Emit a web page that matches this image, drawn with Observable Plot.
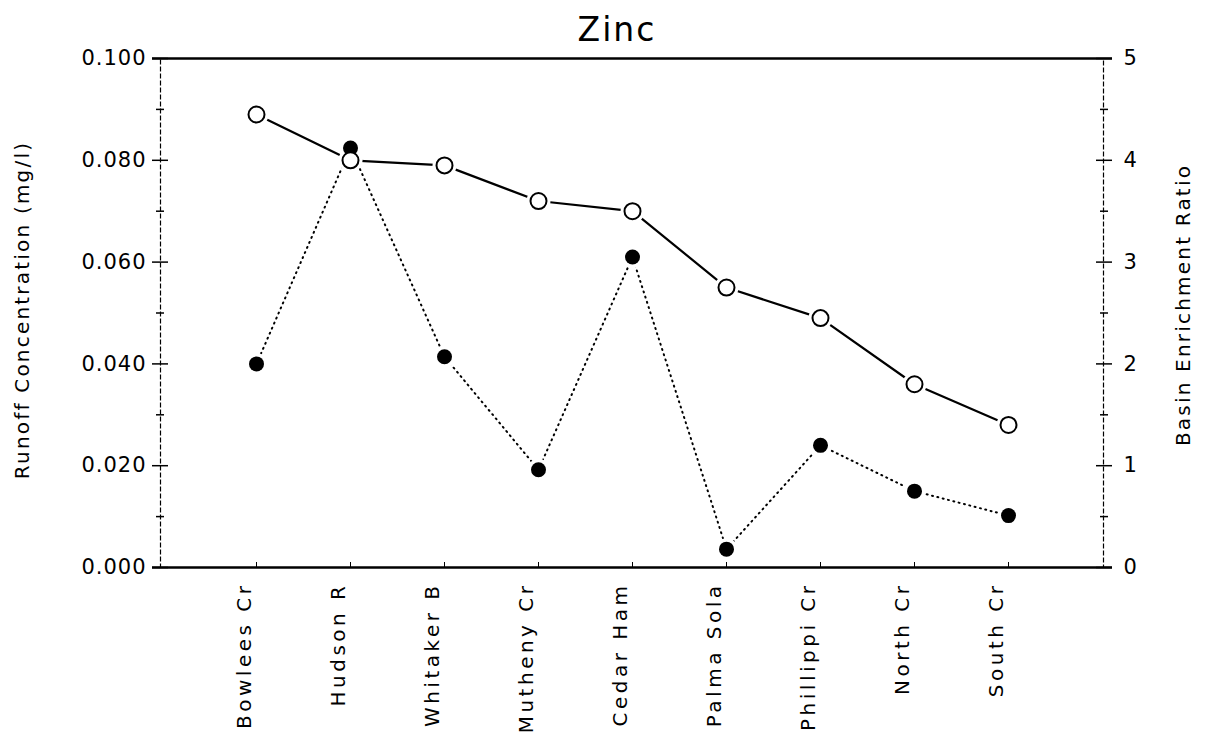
<!DOCTYPE html>
<html>
<head>
<meta charset="utf-8">
<script src="https://cdn.jsdelivr.net/npm/d3@7"></script>
<script src="https://cdn.jsdelivr.net/npm/@observablehq/plot@0.6"></script>
<style>
  body { margin: 0; background: #fff; }
  #wrap { position: relative; width: 1206px; height: 736px; font-family: "DejaVu Sans", sans-serif; color: #000; }
  #titlebar { position: relative; height: 40px; }
  #title { position: absolute; left: 617px; top: 13px; transform: translateX(-50%); font-size: 33px; line-height: 1; letter-spacing: 2px; }
  g[aria-label="x-axis tick label"] text { letter-spacing: 3.5px; }
  g[aria-label="y-axis tick label"] text { letter-spacing: 1px; }
  g[aria-label="text"] text { letter-spacing: 2.2px; }
</style>
</head>
<body>
<div id="wrap">
  <div id="titlebar"><div id="title">Zinc</div></div>
  <div id="chart"></div>
</div>
<script>
// Sites (x categories)
const sites = ["Bowlees Cr", "Hudson R", "Whitaker B", "Mutheny Cr", "Cedar Ham", "Palma Sola", "Phillippi Cr", "North Cr", "South Cr"];
// Open circles, solid line — Runoff Concentration (mg/l), left axis
const runoffConc = [0.089, 0.080, 0.079, 0.072, 0.070, 0.055, 0.049, 0.036, 0.028];
// Filled circles, dotted line — Basin Enrichment Ratio, right axis
const enrichRatio = [2.00, 4.12, 2.07, 0.96, 3.05, 0.18, 1.20, 0.75, 0.51];

// Axis ticks
const leftMajor = [0, 0.02, 0.04, 0.06, 0.08, 0.10];
const leftMinor = [0.01, 0.03, 0.05, 0.07, 0.09];
const rightMajor = [0, 1, 2, 3, 4, 5];
const rightMinor = [0.5, 1.5, 2.5, 3.5, 4.5];
const rightMax = 5, leftMax = 0.1;
const toLeft = v => v * leftMax / rightMax;

const leftLabel = "Runoff Concentration (mg/l)";
const rightLabel = "Basin Enrichment Ratio";

const data = sites.map((s, i) => ({site: s, conc: runoffConc[i], ratio: enrichRatio[i]}));

const chart = Plot.plot({
  width: 1206,
  height: 696,
  marginTop: 18,
  marginBottom: 169,
  marginLeft: 160,
  marginRight: 103,
  style: {fontFamily: "DejaVu Sans, sans-serif", fontSize: "21px", color: "#000", background: "#fff"},
  x: {type: "point", domain: sites, padding: 1},
  y: {domain: [0, leftMax]},
  marks: [
    Plot.frame({stroke: "#000", strokeWidth: 1.2, strokeDasharray: "5,2"}),
    Plot.ruleY([0, leftMax], {stroke: "#000", strokeWidth: 2.5, insetLeft: -8, insetRight: -9}),
    // left axis
    Plot.axisY({anchor: "left", ticks: leftMajor, tickSize: 16, dx: 8, tickPadding: 6,
      tickFormat: d3.format(".3f"), label: null, fontSize: 21, strokeWidth: 1.5}),
    Plot.axisY({anchor: "left", ticks: leftMinor, tickSize: 8, dx: 4, tickFormat: () => "", label: null, strokeWidth: 1.5}),
    // right axis
    Plot.axisY({anchor: "right", ticks: rightMajor.map(toLeft), tickSize: 16, dx: -8, tickPadding: 12,
      tickFormat: d => String(Math.round(d * rightMax / leftMax)), label: null, fontSize: 21, strokeWidth: 1.5}),
    Plot.axisY({anchor: "right", ticks: rightMinor.map(toLeft), tickSize: 8, dx: -4, tickFormat: () => "", label: null, strokeWidth: 1.5}),
    // x axis
    Plot.axisX({anchor: "bottom", tickSize: 5, dy: -5, tickFormat: () => "", label: null}),
    Plot.axisX({anchor: "bottom", tickSize: 0, tickPadding: 15, tickRotate: -90, dx: -12, label: null, fontSize: 20}),
    // axis titles
    Plot.text([leftLabel], {frameAnchor: "left", textAnchor: "middle", lineAnchor: "middle", rotate: -90, dx: -138, dy: -3, fontSize: 20}),
    Plot.text([rightLabel], {frameAnchor: "right", textAnchor: "middle", lineAnchor: "middle", rotate: -90, dx: 80, dy: -8, fontSize: 20}),
    // lines
    Plot.line(data, {x: "site", y: d => toLeft(d.ratio), stroke: "#000", strokeWidth: 2, strokeDasharray: "1,4.5", strokeLinecap: "round"}),
    Plot.line(data, {x: "site", y: "conc", stroke: "#000", strokeWidth: 2.2}),
    // white halos so lines stop short of the symbols
    Plot.dot(data, {x: "site", y: d => toLeft(d.ratio), r: 11, fill: "#fff"}),
    Plot.dot(data, {x: "site", y: "conc", r: 12, fill: "#fff"}),
    // symbols
    Plot.dot(data, {x: "site", y: d => toLeft(d.ratio), r: 7.5, fill: "#000"}),
    Plot.dot(data, {x: "site", y: "conc", r: 8, fill: "#fff", stroke: "#000", strokeWidth: 2})
  ]
});
document.getElementById("chart").appendChild(chart);
</script>
</body>
</html>
